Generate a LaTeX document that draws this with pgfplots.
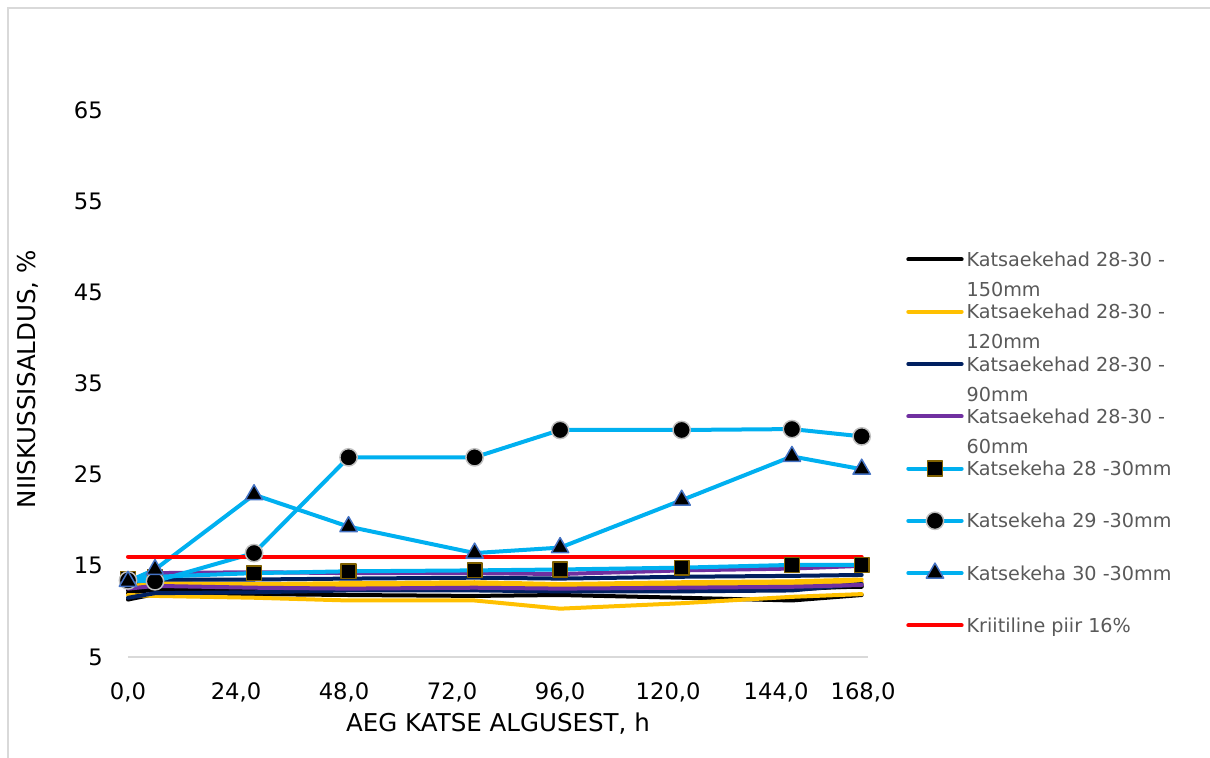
\documentclass[border=0pt]{standalone}
\usepackage{fontspec}
\setmainfont{DejaVu Sans}
\usepackage{pgfplots}
\usepackage{pgfplotstable}
\pgfplotsset{compat=1.18}

\definecolor{cblue}{HTML}{00B0F0}
\definecolor{cyellow}{HTML}{FFC000}
\definecolor{cnavy}{HTML}{002060}
\definecolor{cpurple}{HTML}{7030A0}
\definecolor{cred}{HTML}{FF0000}
\definecolor{legtext}{HTML}{595959}
\definecolor{framegray}{HTML}{D9D9D9}
\definecolor{sqedge}{HTML}{7F6000}
\definecolor{circedge}{HTML}{BFBFBF}
\definecolor{triedge}{HTML}{4472C4}

% moisture content (%) against time since start (h)
\pgfplotstableread{
t     a     b     c
0     12.0  11.3  12.3
6     12.4  11.9  12.4
28    12.5  11.9  12.4
49    12.6  11.8  12.5
77    12.4  11.7  12.4
96    12.6  11.8  12.3
123   12.5  11.5  12.3
147.5 12.6  11.2  12.4
163   12.7  11.8  12.8
}\tabA
\pgfplotstableread{
t     a     b     c
0     13.0  11.8  12.7
6     13.1  11.7  12.8
28    13.0  11.5  12.8
49    13.1  11.2  12.9
77    13.2  11.2  12.9
96    13.0  10.3  12.8
123   13.2  10.9  12.9
147.5 13.3  11.6  13.0
163   13.5  11.9  13.2
}\tabB
\pgfplotstableread{
t     a     b
0     13.2  11.5
6     13.5  12.0
28    13.5  12.1
49    13.6  12.3
77    13.7  12.3
96    13.6  12.2
123   13.8  12.2
147.5 13.9  12.3
163   14.0  13.0
}\tabC
\pgfplotstableread{
t     a     b
0     13.0  12.5
6     14.2  12.8
28    14.3  12.6
49    14.2  12.5
77    14.2  12.6
96    14.1  12.5
123   14.5  12.6
147.5 14.7  12.7
163   15.0  12.9
}\tabD
\pgfplotstableread{
t     k28   k29   k30   crit
0     13.6  13.4  13.3  16
6     13.8  13.3  14.6  16
28    14.2  16.4  22.8  16
49    14.4  26.9  19.3  16
77    14.5  26.9  16.4  16
96    14.6  29.9  17.0  16
123   14.8  29.9  22.2  16
147.5 15.1  30.0  27.0  16
163   15.1  29.2  25.6  16
}\tabK

% legend text: box centred on the first line, fixed row pitch
\newcommand{\lent}[2]{\raisebox{0pt}[24.85pt][14.35pt]{\parbox[t]{170pt}{\baselineskip=22.5pt #1\\#2}}}

\begin{document}
\begin{tikzpicture}
\useasboundingbox (-96pt,-75pt) rectangle (811.5pt,492.75pt);
\draw[framegray, line width=1.1pt] (-90pt,-80pt) -- (-90pt,486.75pt) -- (820pt,486.75pt);
\begin{axis}[
  scale only axis, width=555pt, height=410.25pt,
  xmin=0, xmax=164.4, ymin=5, ymax=65,
  axis x line*=bottom, axis y line*=left,
  y axis line style={draw=none},
  x axis line style={draw=framegray, line width=1.1pt},
  xtick={0,24,48,72,96,120,144,163.3},
  xticklabels={{0,0},{24,0},{48,0},{72,0},{96,0},{120,0},{144,0},{168,0}},
  ytick={5,15,25,35,45,55,65},
  major tick length=0pt,
  /pgf/number format/assume math mode=true,
  tick label style={font=\fontsize{17}{20}\selectfont, inner sep=0pt},
  xticklabel style={anchor=base, yshift=-31.5pt},
  yticklabel style={anchor=east, xshift=-18.75pt},
  xlabel={AEG KATSE ALGUSEST, h},
  ylabel={NIISKUSSISALDUS, \%},
  label style={font=\fontsize{18.4}{22}\selectfont},
  xlabel style={at={(axis description cs:0.5,0)}, anchor=base, yshift=-55.5pt},
  ylabel style={at={(axis description cs:-0.1351,0.508)}, anchor=center},
  clip=false,
  every axis plot/.append style={line width=3pt, line cap=round, line join=round},
  legend image code/.code={%
    \path[draw=none, fill=none, use as bounding box] (0pt,-8pt) rectangle (40pt,8pt);
    \draw[mark repeat=2,mark phase=2] plot coordinates {(0pt,0pt) (20pt,0pt) (40pt,0pt)};},
  legend cell align=left,
  legend style={at={(axis description cs:1.0541,0.775)}, anchor=north west,
    draw=none, fill=none, text=legtext, font=\fontsize{14.4}{17}\selectfont,
    row sep=0pt, column sep=3.75pt, inner sep=0pt,
    nodes={inner sep=0pt, text depth=}},
]
% 150 mm
\addplot[black, no markers, forget plot] table[x=t, y=b] {\tabA};
\addplot[black, no markers, forget plot] table[x=t, y=c] {\tabA};
\addplot[black, no markers] table[x=t, y=a] {\tabA};
\addlegendentry{\lent{Katsaekehad 28-30 -}{150mm}}
% 120 mm
\addplot[cyellow, no markers, forget plot] table[x=t, y=b] {\tabB};
\addplot[cyellow, no markers, forget plot] table[x=t, y=c] {\tabB};
\addplot[cyellow, no markers] table[x=t, y=a] {\tabB};
\addlegendentry{\lent{Katsaekehad 28-30 -}{120mm}}
% 90 mm
\addplot[cnavy, no markers, forget plot] table[x=t, y=b] {\tabC};
\addplot[cnavy, no markers] table[x=t, y=a] {\tabC};
\addlegendentry{\lent{Katsaekehad 28-30 -}{90mm}}
% 60 mm
\addplot[cpurple, no markers, forget plot] table[x=t, y=b] {\tabD};
\addplot[cpurple, no markers] table[x=t, y=a] {\tabD};
\addlegendentry{\lent{Katsaekehad 28-30 -}{60mm}}
% single specimens, 30 mm
\addplot[cblue, mark=square*, mark size=5.5pt,
  mark options={solid, fill=black, draw=sqedge, line width=1.1pt}] table[x=t, y=k28] {\tabK};
\addlegendentry{\lent{Katsekeha 28 -30mm}{}}
\addplot[cblue, mark=*, mark size=6.5pt,
  mark options={solid, fill=black, draw=circedge, line width=1.1pt}] table[x=t, y=k29] {\tabK};
\addlegendentry{\lent{Katsekeha 29 -30mm}{}}
\addplot[cblue, mark=triangle*, mark size=7.5pt,
  mark options={solid, fill=black, draw=triedge, line width=1.1pt}] table[x=t, y=k30] {\tabK};
\addlegendentry{\lent{Katsekeha 30 -30mm}{}}
% critical limit
\addplot[cred, no markers] table[x=t, y=crit] {\tabK};
\addlegendentry{\lent{Kriitiline piir 16\%}{}}
\end{axis}
\end{tikzpicture}
\end{document}
